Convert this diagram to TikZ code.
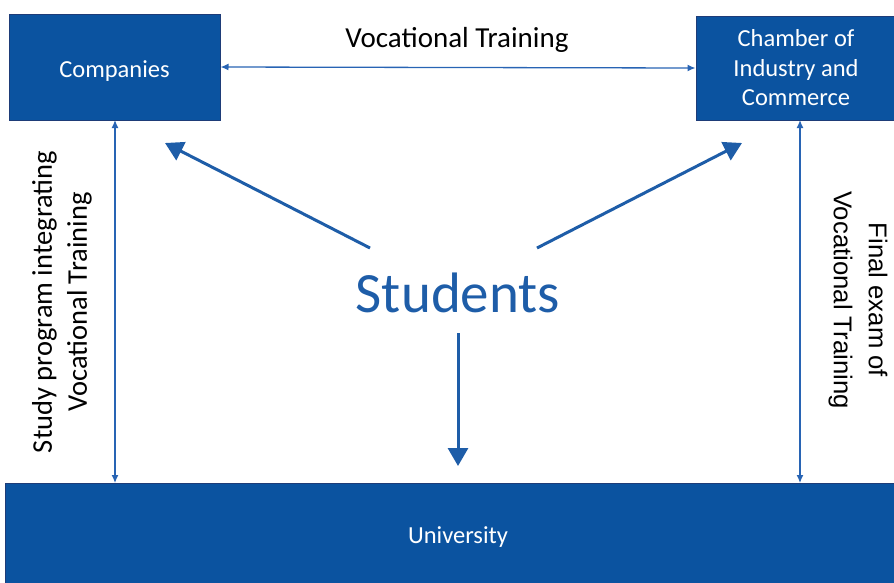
\documentclass[tikz,border=0pt]{standalone}
\usepackage{fontspec}
\setmainfont{Carlito}
\newfontfamily\arialfont{Liberation Sans}
\usetikzlibrary{arrows.meta}
\definecolor{boxblue}{RGB}{11,83,160}
\definecolor{boxedge}{RGB}{30,60,120}
\definecolor{linkblue}{RGB}{40,100,180}
\definecolor{studblue}{RGB}{30,93,168}
\tikzset{
  bluebox/.style={fill=boxblue, draw=boxedge, line width=1pt, text=white, align=center, inner sep=0pt},
  thinlink/.style={draw=linkblue, line width=1.3pt, {Latex[length=8pt,width=7pt]}-{Latex[length=8pt,width=7pt]}},
  thicklink/.style={draw=studblue, line width=3pt, -{Triangle[length=18pt,width=20pt]}},
  boxtext/.style={font=\fontsize{24.5}{29.5}\selectfont},
  sidetext/.style={align=center, text=black},
}
\begin{document}
\begin{tikzpicture}[x=1pt,y=-1pt]
\useasboundingbox (0,0) rectangle (894,582);
\node[bluebox, boxtext, minimum width=211pt, minimum height=106pt, text height=22pt, text depth=2pt] (comp) at (114.5,67) {Companies};
\node[bluebox, boxtext, minimum width=200pt, minimum height=104pt] (cham) at (796,68) {Chamber of\\Industry and\\Commerce};
\node[bluebox, boxtext, minimum width=906pt, minimum height=108pt] (univ) at (458,537) {University};
\node[font=\fontsize{29}{34}\selectfont, text=black] (voc) at (457,40) {Vocational Training};
\node[font=\fontsize{57}{60}\selectfont, text=studblue, inner sep=0pt] (stud) at (458,293) {Students};
\node[sidetext, font=\fontsize{28.5}{35}\selectfont, rotate=90] (left) at (62,302) {Study program integrating\\Vocational Training};
\node[sidetext, font={\arialfont\fontsize{25.7}{35}\selectfont}, rotate=-90] (right) at (858,300) {Final exam of\\Vocational Training};
\coordinate (sl) at (370,248);
\coordinate (sr) at (537,248);
\coordinate (sd) at (458,333);
\draw[thinlink] (comp.east) -- (cham.west);
\draw[thinlink] (115,120) -- (115,483);
\draw[thinlink] (800,120) -- (800,483);
\draw[thicklink] (sl) -- (165,143);
\draw[thicklink] (sr) -- (742,143);
\draw[thicklink] (sd) -- (458,466);
\end{tikzpicture}
\end{document}
